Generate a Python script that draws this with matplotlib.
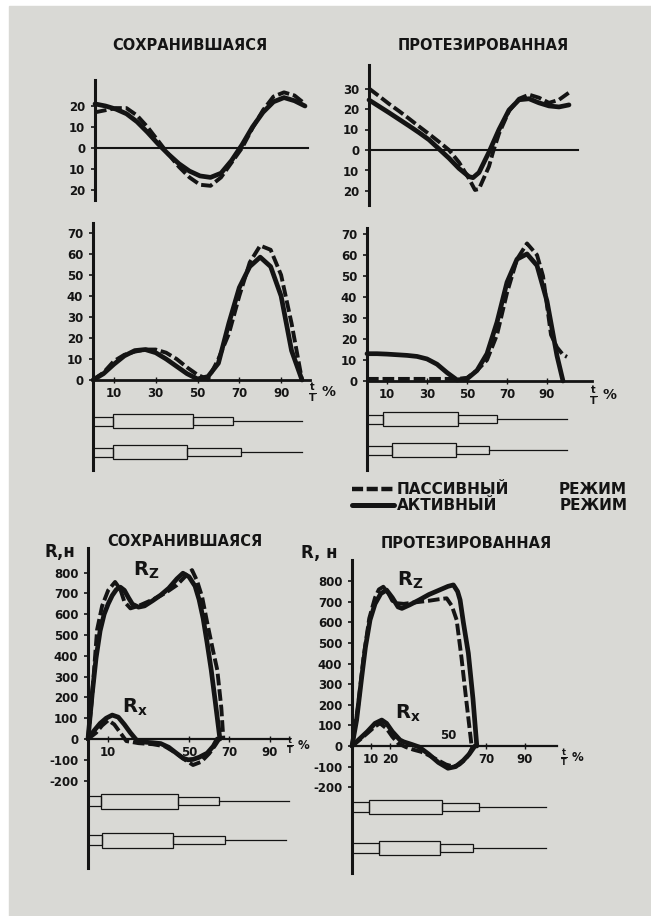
import matplotlib
matplotlib.use("Agg")
import matplotlib.pyplot as plt
from matplotlib.patches import Rectangle
from matplotlib.lines import Line2D

# ---------------------------------------------------------------- data
# gait cycle, % of stride time t/T
pct20 = [0, 5, 10, 15, 20, 25, 30, 35, 40, 45, 50, 55, 60, 65, 70, 75, 80, 85, 90, 95, 100]

# upper angle, intact limb (deg)
ang1_int_active = [21, 20, 18.5, 16.3, 12.5, 7.5, 2, -3, -7.5, -11, -13.3, -14, -12, -6, 1.5, 10, 17, 22, 24, 22.5, 20]
ang1_int_passive = [17, 18, 19, 19, 15.5, 10, 3.5, -3, -9, -14, -17.5, -18, -14, -7, 0, 9.5, 18, 24.5, 26.5, 25, 21]

# upper angle, prosthetic limb (deg)
ang1_pro_active_t = [0, 5, 10, 15, 20, 25, 30, 35, 40, 45, 50, 52, 55, 60, 65, 70, 75, 80, 85, 90, 95, 100]
ang1_pro_active = [24.4, 21.3, 18.2, 15, 11.8, 8.5, 5, 0.5, -4, -9, -13, -13.5, -11, -1, 10, 19.5, 24.5, 25, 23, 21.5, 21, 22]
ang1_pro_passive_t = [0, 5, 10, 15, 20, 25, 30, 35, 40, 45, 50, 53, 55, 60, 62, 65, 70, 75, 80, 85, 90, 95, 100]
ang1_pro_passive = [30, 26.3, 22.5, 19, 15.3, 11.5, 7.8, 4, 0, -6, -14, -19.5, -19, -8, -1, 8, 19, 25, 27, 25.5, 23, 24.5, 28]

# lower angle, intact limb (deg)
ang2_int_active = [0, 3, 7.5, 11.5, 14, 14.5, 13, 10, 6.5, 3, 0.5, 1.6, 8, 27, 44, 54, 58.5, 54, 40, 14, 0]
ang2_int_passive = [0, 3.5, 9, 12, 13.5, 14.5, 14.5, 13, 10, 6, 2.5, 0.3, 10, 22, 40, 56, 64, 62, 50, 27, 0]

# lower angle, prosthetic limb (deg)
ang2_pro_active_t = [0, 5, 10, 15, 20, 25, 30, 35, 40, 45, 50, 55, 60, 65, 70, 75, 80, 85, 90, 95, 98]
ang2_pro_active = [13, 13, 12.8, 12.5, 12.2, 11.7, 10.5, 8, 4, 0.5, 1, 5, 13, 28, 47, 58, 60.5, 55, 38, 12, 0]
ang2_pro_passive_t = [0, 5, 10, 15, 20, 25, 30, 35, 40, 45, 50, 55, 60, 65, 70, 75, 80, 85, 88, 90, 92, 95, 98, 100]
ang2_pro_passive = [1, 1, 1, 1, 1, 1, 1, 1, 1, 1, 1.5, 5, 10, 22, 42, 58, 65.5, 60, 50, 36, 22, 16, 12.5, 11.5]

# ground reaction forces, intact limb (N)
rz_int_active_t = [0, 2, 4, 6, 8, 10, 12, 14, 16, 18, 20, 22, 25, 28, 32, 36, 40, 44, 47, 50, 53, 55, 57, 59, 61, 63, 65.3]
rz_int_active = [0, 210, 390, 520, 600, 650, 690, 718, 730, 715, 680, 648, 634, 640, 665, 692, 725, 770, 797, 780, 735, 670, 580, 460, 332, 180, 0]
rz_int_passive_t = [0, 2, 4.5, 7, 10, 13.4, 16, 18, 21, 25, 32, 38, 44, 48, 51.5, 54, 56.5, 59, 62, 64, 66, 67]
rz_int_passive = [0, 200, 525, 640, 715, 755, 720, 660, 628, 640, 670, 700, 740, 780, 812, 760, 683, 560, 420, 332, 150, 0]
rx_int_active_t = [0, 3, 6, 9, 12, 15, 18, 21, 24, 28, 32, 36, 40, 44, 47, 49.5, 52, 55, 59, 62, 64]
rx_int_active = [0, 40, 75, 100, 115, 105, 70, 30, -5, -15, -18, -22, -40, -70, -92, -100, -98, -88, -68, -35, 0]
rx_int_passive_t = [0, 4, 7, 10, 13, 16, 19, 25, 32, 38, 44, 48, 52, 56, 60, 63, 65]
rx_int_passive = [0, 30, 65, 90, 70, 30, -10, -20, -25, -35, -70, -100, -125, -110, -70, -30, 0]

# ground reaction forces, prosthetic limb (N)
rz_pro_active_t = [0, 2.4, 5, 7, 9.4, 12, 15, 18, 21, 24, 26, 30, 35, 40, 45, 50, 52.8, 55, 56.3, 58, 60.6, 63, 65]
rz_pro_active = [0, 126, 330, 480, 612, 690, 740, 757, 720, 675, 668, 685, 709, 735, 755, 775, 782, 750, 709, 600, 450, 230, 0]
rz_pro_passive_t = [0, 3, 6, 9, 12, 14, 16.3, 19, 21, 23.3, 27, 31, 35.4, 40, 45, 49.3, 52, 54.5, 57, 59.7, 62.3]
rz_pro_passive = [0, 180, 430, 620, 720, 760, 773, 740, 705, 693, 690, 695, 700, 705, 712, 717, 680, 612, 430, 207, 0]
rx_pro_active_t = [0, 4, 8, 12, 15.5, 18, 21, 25, 27, 31, 35, 40, 45, 50, 54, 58, 61, 64]
rx_pro_active = [0, 35, 70, 110, 126, 110, 70, 29, 20, 8, -5, -40, -80, -108, -100, -70, -40, 0]
rx_pro_passive_t = [0, 4, 8, 12, 14.6, 18, 21, 24, 28, 32, 36, 40, 45, 49, 52.8, 56, 59, 61, 63]
rx_pro_passive = [0, 30, 62, 95, 110, 85, 45, 13, -5, -18, -28, -45, -70, -90, -100, -90, -65, -40, 0]

# gait-phase diagrams: end of [double support, single support, second double support, swing], % of cycle
phases_int_top = [[9.6, 48, 67, 100], [9.6, 45, 71, 100]]
phases_pro_top = [[8, 45.5, 65, 100], [12.5, 44.5, 61, 100]]
phases_int_bot = [[6.4, 44.6, 65, 99.5], [6.9, 42, 68, 98]]
phases_pro_bot = [[9, 47, 66, 101], [14, 46, 63, 101]]

# axis ticks and labels
ang1_int_ticks = [20, 10, 0, -10, -20]
ang1_int_labels = ["20", "10", "0", "10", "20"]
ang1_pro_ticks = [30, 20, 10, 0, -10, -20]
ang1_pro_labels = ["30", "20", "10", "0", "10", "20"]
ang2_ticks = [0, 10, 20, 30, 40, 50, 60, 70]
ang2_xticks = [10, 30, 50, 70, 90]
force_ticks = [800, 700, 600, 500, 400, 300, 200, 100, 0, -100, -200]
force_labels = ["800", "700", "600", "500", "400", "300", "200", "100", "0", "-100", "-200"]
force_int_xticks = [10, 50, 70, 90]
force_pro_xticks = [10, 20, 70, 90]

# ---------------------------------------------------------------- style
plt.rcParams["font.family"] = ["DejaVu Sans"]
plt.rcParams["font.weight"] = "bold"
plt.rcParams["mathtext.fontset"] = "dejavusans"

INK = "#141414"
PAPER = "#d9d9d5"
W, H = 651, 916
TICK_FS = 8.5

fig = plt.figure(figsize=(W / 100, H / 100), dpi=100)
fig.patch.set_facecolor("white")
fig.add_artist(Rectangle((9 / W, 0), (W - 9) / W, (H - 6) / H,
                         transform=fig.transFigure, color=PAPER, zorder=-10))


def px_axes(left, top, right, bottom):
    return fig.add_axes([left / W, 1 - bottom / H, (right - left) / W, (bottom - top) / H])


def ftext(x, y, s, **kw):
    kw.setdefault("color", INK)
    return fig.text(x / W, 1 - y / H, s, **kw)


def chart(x0, sx, y0, sy, xlim, ylim, axis_lw=2.2, zero_lw=1.6):
    ax = px_axes(x0 + xlim[0] * sx, y0 - ylim[1] * sy, x0 + xlim[1] * sx, y0 - ylim[0] * sy)
    ax.set_xlim(xlim)
    ax.set_ylim(ylim)
    ax.patch.set_alpha(0)
    for side in ("top", "right"):
        ax.spines[side].set_visible(False)
    ax.spines["left"].set_linewidth(axis_lw)
    ax.spines["left"].set_color(INK)
    ax.spines["bottom"].set_position(("data", 0))
    ax.spines["bottom"].set_linewidth(zero_lw)
    ax.spines["bottom"].set_color(INK)
    ax.tick_params(axis="y", direction="out", length=3, width=1.2, pad=4,
                   labelsize=TICK_FS, colors=INK)
    ax.tick_params(axis="x", direction="inout", length=4, width=1.0, pad=3,
                   labelsize=TICK_FS, colors=INK)
    ax.set_xticks([])
    return ax


def curves(ax, t_a, active, t_p, passive):
    ax.plot(t_a, active, color=INK, lw=3.4, solid_capstyle="round",
            solid_joinstyle="round", clip_on=False, zorder=3)
    ax.plot(t_p, passive, color=INK, lw=2.8, linestyle=(0, (3, 1)),
            dash_joinstyle="round", clip_on=False, zorder=4)


def phase_diagram(x0, sx, xlim, rows_y, phases, h_thin=9, h_big=14, h_mid=8):
    top, bottom = rows_y[0] - 20, rows_y[-1] + 20
    ax = px_axes(x0 + xlim[0] * sx, top, x0 + xlim[1] * sx, bottom)
    ax.set_xlim(xlim)
    ax.set_ylim(bottom, top)
    ax.axis("off")
    for yc, (a, b, c, d) in zip(rows_y, phases):
        for xs, xe, h in ((0, a, h_thin), (a, b, h_big), (b, c, h_mid)):
            ax.add_patch(Rectangle((xs, yc - h / 2), xe - xs, h, fill=False,
                                   lw=0.9, ec=INK, clip_on=False))
        ax.plot([c, d], [yc, yc], color=INK, lw=0.9, clip_on=False)
    return ax


TT = r"$\mathbf{\frac{t}{T}}$ %"

# ---------------------------------------------------------------- top row: angles
ax = chart(95, 2.1, 148, 2.1, (0, 101.5), (-24.8, 32.4), zero_lw=1.5)
ax.set_yticks(ang1_int_ticks, ang1_int_labels)
curves(ax, pct20, ang1_int_active, pct20, ang1_int_passive)
ftext(190, 45, "СОХРАНИВШАЯСЯ", ha="center", va="center", fontsize=10.5)

ax = chart(369, 2.0, 150, 2.05, (0, 104.5), (-26.8, 41.5), zero_lw=1.5)
ax.set_yticks(ang1_pro_ticks, ang1_pro_labels)
curves(ax, ang1_pro_active_t, ang1_pro_active, ang1_pro_passive_t, ang1_pro_passive)
ftext(483, 45, "ПРОТЕЗИРОВАННАЯ", ha="center", va="center", fontsize=10.5)

# ---------------------------------------------------------------- second row: angles + phases
ax = chart(93, 2.09, 380, 2.1, (0, 104), (-42.9, 74.8), zero_lw=2.0)
ax.set_yticks(ang2_ticks)
ax.set_xticks(ang2_xticks)
curves(ax, pct20, ang2_int_active, pct20, ang2_int_passive)
phase_diagram(93, 2.09, (0, 104), [421, 452], phases_int_top)
ftext(322, 393, TT, ha="center", va="center", fontsize=10)

ax = chart(367, 2.0, 381, 2.1, (0, 112.5), (-42.4, 72.9), zero_lw=2.0)
ax.set_yticks(ang2_ticks)
ax.set_xticks(ang2_xticks)
curves(ax, ang2_pro_active_t, ang2_pro_active, ang2_pro_passive_t, ang2_pro_passive)
phase_diagram(367, 2.0, (0, 112.5), [419, 450], phases_pro_top)
ftext(603, 396, TT, ha="center", va="center", fontsize=10)

# ---------------------------------------------------------------- legend
leg_y = (489, 505)
fig.add_artist(Line2D([352 / W, 394 / W], [1 - leg_y[0] / H] * 2, color=INK, lw=3.2,
                      linestyle=(0, (2.5, 0.8))))
fig.add_artist(Line2D([352 / W, 394 / W], [1 - leg_y[1] / H] * 2, color=INK, lw=3.6,
                      solid_capstyle="round"))
ftext(397, leg_y[0], "ПАССИВНЫЙ", ha="left", va="center", fontsize=11)
ftext(627, leg_y[0], "РЕЖИМ", ha="right", va="center", fontsize=11)
ftext(397, leg_y[1], "АКТИВНЫЙ", ha="left", va="center", fontsize=11)
ftext(628, leg_y[1], "РЕЖИМ", ha="right", va="center", fontsize=11)

# ---------------------------------------------------------------- bottom row: ground reaction forces
ax = chart(88, 2.02, 739, 0.208, (0, 100), (-620, 918), zero_lw=1.6)
ax.set_yticks(force_ticks, force_labels)
ax.set_xticks(force_int_xticks)
curves(ax, rz_int_active_t, rz_int_active, rz_int_passive_t, rz_int_passive)
curves(ax, rx_int_active_t, rx_int_active, rx_int_passive_t, rx_int_passive)
phase_diagram(88, 2.02, (0, 100), [801, 840], phases_int_bot, h_thin=10, h_big=15, h_mid=8)
ftext(185, 542, "СОХРАНИВШАЯСЯ", ha="center", va="center", fontsize=10.5)
ftext(60, 552, "R,н", ha="center", va="center", fontsize=12)
ftext(133, 570, r"$\mathbf{R}_{\mathbf{Z}}$", ha="left", va="center", fontsize=14)
ftext(122, 707, r"$\mathbf{R}_{\mathbf{x}}$", ha="left", va="center", fontsize=14)
ftext(298, 746, TT, ha="center", va="center", fontsize=8.5)

ax = chart(352, 1.92, 746, 0.206, (0, 107), (-617, 903), zero_lw=1.6)
ax.set_yticks(force_ticks, force_labels)
ax.set_xticks(force_pro_xticks)
ax.annotate("50", xy=(50, 0), xytext=(0, 3), textcoords="offset points",
            ha="center", va="bottom", fontsize=TICK_FS, color=INK)
curves(ax, rz_pro_active_t, rz_pro_active, rz_pro_passive_t, rz_pro_passive)
curves(ax, rx_pro_active_t, rx_pro_active, rx_pro_passive_t, rx_pro_passive)
phase_diagram(352, 1.92, (0, 107), [807, 848], phases_pro_bot, h_thin=10, h_big=14, h_mid=8)
ftext(466, 543, "ПРОТЕЗИРОВАННАЯ", ha="center", va="center", fontsize=10.5)
ftext(319, 553, "R, н", ha="center", va="center", fontsize=12)
ftext(397, 580, r"$\mathbf{R}_{\mathbf{Z}}$", ha="left", va="center", fontsize=14)
ftext(395, 713, r"$\mathbf{R}_{\mathbf{x}}$", ha="left", va="center", fontsize=14)
ftext(572, 758, TT, ha="center", va="center", fontsize=8.5)

fig.savefig("out.png", dpi=100, facecolor=fig.get_facecolor())
